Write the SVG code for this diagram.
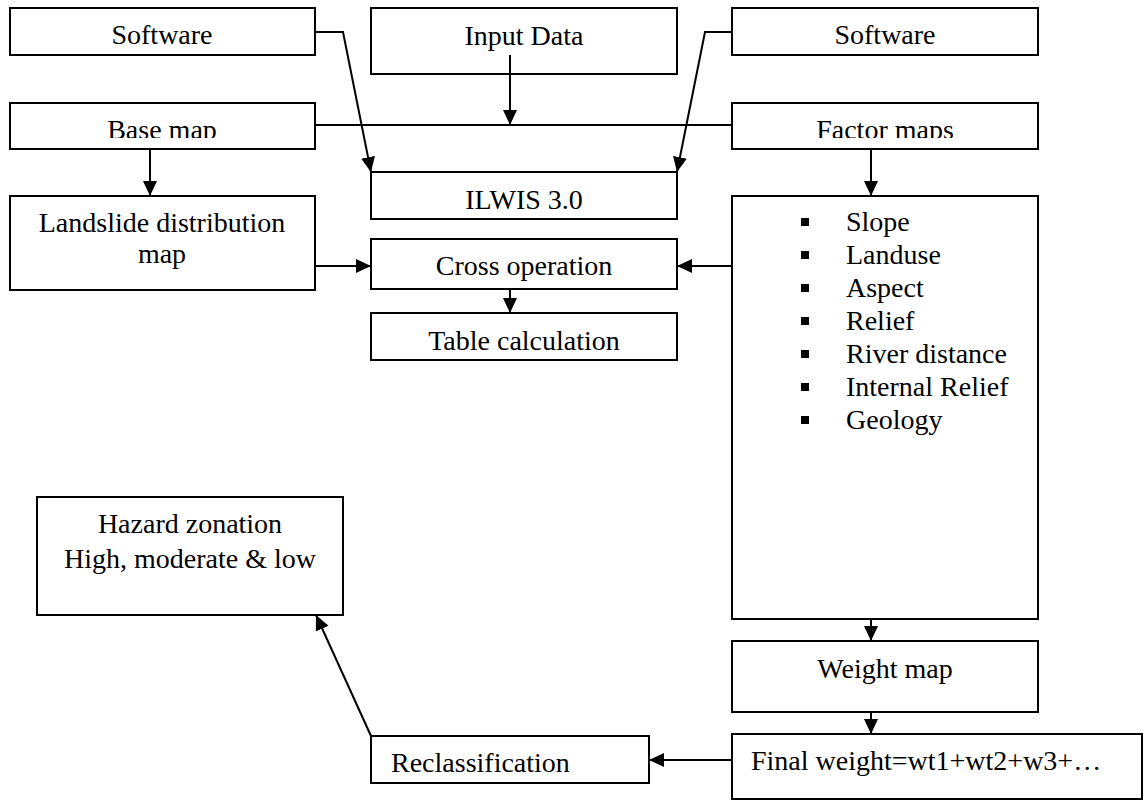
<svg xmlns="http://www.w3.org/2000/svg" width="1146" height="801" viewBox="0 0 1146 801">
<style>
.box{fill:#fff;stroke:#000;stroke-width:2}
.t{font-family:"Liberation Serif","Times New Roman",serif;font-size:28px;fill:#000}
.c{text-anchor:middle}
.ln{fill:none;stroke:#000;stroke-width:2}
.ar{fill:none;stroke:#000;stroke-width:2;marker-end:url(#ah)}
</style>
<defs>
<marker id="ah" markerUnits="userSpaceOnUse" markerWidth="16" markerHeight="16" viewBox="0 0 16 16" refX="15" refY="8" orient="auto">
<path d="M0,1 L15,8 L0,15 Z" fill="#000"/>
</marker>
<clipPath id="clipBase"><rect x="10" y="103" width="305" height="35"/></clipPath>
<clipPath id="clipFactor"><rect x="732" y="103" width="306" height="35"/></clipPath>
</defs>
<rect width="1146" height="801" fill="#fff"/>
<g id="software-left"><rect class="box" x="10" y="8" width="305" height="47"/><text class="t c" x="162" y="44">Software</text></g>
<g id="input-data"><rect class="box" x="371" y="8" width="306" height="66"/><text class="t c" x="524" y="45">Input Data</text></g>
<g id="software-right"><rect class="box" x="732" y="8" width="306" height="47"/><text class="t c" x="885" y="44">Software</text></g>
<g id="base-map"><rect class="box" x="10" y="103" width="305" height="46"/><text class="t c" x="162" y="139" clip-path="url(#clipBase)">Base map</text></g>
<g id="factor-maps"><rect class="box" x="732" y="103" width="306" height="46"/><text class="t c" x="885" y="139" clip-path="url(#clipFactor)">Factor maps</text></g>
<g id="ilwis"><rect class="box" x="371" y="172" width="306" height="47"/><text class="t c" x="524" y="209">ILWIS 3.0</text></g>
<g id="landslide"><rect class="box" x="10" y="196" width="305" height="94"/><text class="t c" x="162" y="232">Landslide distribution</text><text class="t c" x="162" y="263">map</text></g>
<g id="cross"><rect class="box" x="371" y="239" width="306" height="50"/><text class="t c" x="524" y="275">Cross operation</text></g>
<g id="table"><rect class="box" x="371" y="313" width="306" height="47"/><text class="t c" x="524" y="350">Table calculation</text></g>
<g id="factors"><rect class="box" x="732" y="196" width="306" height="423"/>
<g fill="#000"><rect x="801" y="218" width="8" height="8"/><rect x="801" y="251" width="8" height="8"/><rect x="801" y="284" width="8" height="8"/><rect x="801" y="317" width="8" height="8"/><rect x="801" y="350" width="8" height="8"/><rect x="801" y="383" width="8" height="8"/><rect x="801" y="416" width="8" height="8"/></g>
<text class="t" x="846" y="231">Slope</text><text class="t" x="846" y="264">Landuse</text><text class="t" x="846" y="297">Aspect</text><text class="t" x="846" y="330">Relief</text><text class="t" x="846" y="363">River distance</text><text class="t" x="846" y="396">Internal Relief</text><text class="t" x="846" y="429">Geology</text></g>
<g id="hazard"><rect class="box" x="37" y="497" width="306" height="118"/><text class="t c" x="190" y="533">Hazard zonation</text><text class="t c" x="190" y="568">High, moderate &amp; low</text></g>
<g id="weight"><rect class="box" x="732" y="641" width="306" height="71"/><text class="t c" x="885" y="678">Weight map</text></g>
<g id="final"><rect class="box" x="732" y="734" width="410" height="65"/><text class="t" x="751" y="770">Final weight=wt1+wt2+w3+…</text></g>
<g id="reclass"><rect class="box" x="371" y="736" width="278" height="47"/><text class="t" x="391" y="772">Reclassification</text></g>
<g id="connectors">
<polyline class="ar" points="315,32 343,32 371,172"/>
<polyline class="ar" points="732,32 705,32 677,172"/>
<line class="ar" x1="510" y1="55" x2="510" y2="125"/>
<line class="ln" x1="315" y1="125" x2="732" y2="125"/>
<line class="ar" x1="150" y1="149" x2="150" y2="196"/>
<line class="ar" x1="871" y1="149" x2="871" y2="196"/>
<line class="ar" x1="315" y1="266" x2="371" y2="266"/>
<line class="ar" x1="732" y1="266" x2="677" y2="266"/>
<line class="ar" x1="510" y1="289" x2="510" y2="313"/>
<line class="ar" x1="871" y1="619" x2="871" y2="641"/>
<line class="ar" x1="871" y1="712" x2="871" y2="734"/>
<line class="ar" x1="732" y1="760" x2="649" y2="760"/>
<line class="ar" x1="371" y1="736" x2="316" y2="615"/>
</g>
</svg>
